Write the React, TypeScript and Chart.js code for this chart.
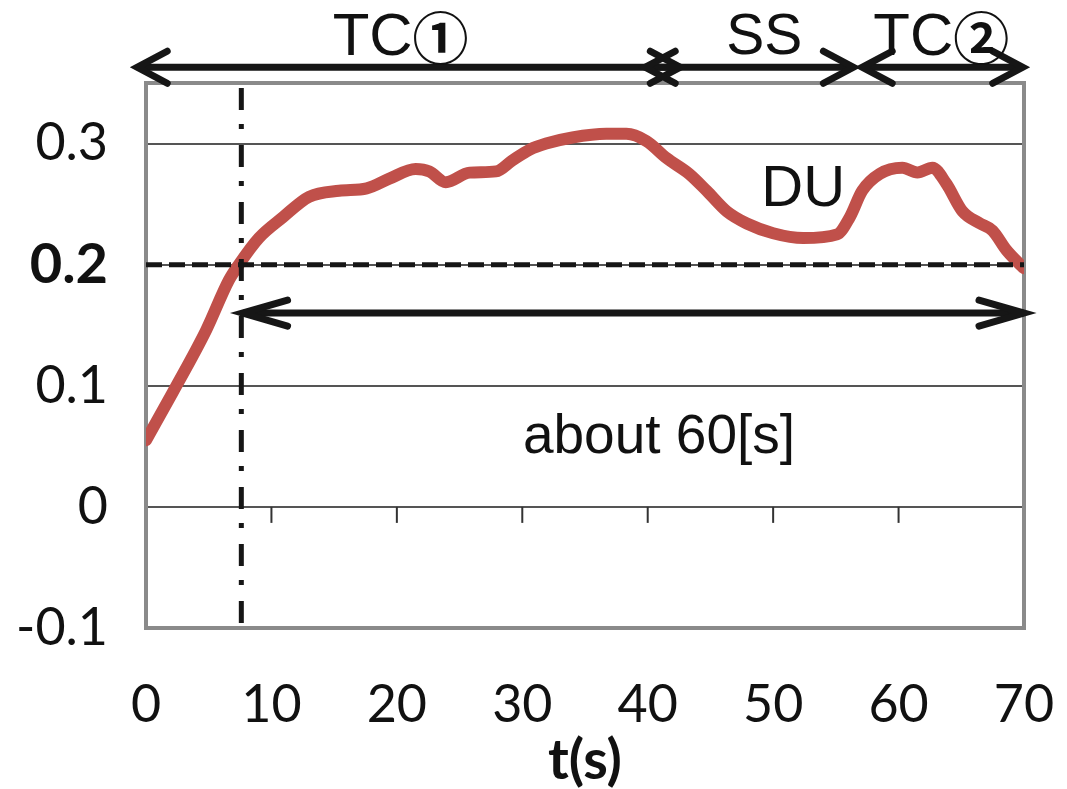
import React, { useEffect, useRef } from 'react';
import { Chart, registerables } from 'chart.js';

Chart.register(...registerables);

// ---- data ----
const timeSeconds = [0, 2.1, 4.8, 6.6, 7.4, 9.0, 10.9, 13.0, 15.4, 17.6, 19.4, 21.5, 22.6, 23.9, 25.8, 27.9, 29.2, 30.6, 31.9, 34.0, 36.7, 38.3, 39.9, 41.5, 43.3, 44.7, 46.3, 47.9, 50.0, 52.4, 55.1, 56.1, 57.1, 58.5, 60.3, 61.5, 62.7, 63.8, 65.1, 66.5, 67.5, 68.6, 69.7, 70];
const duValues = [0.055, 0.094, 0.146, 0.187, 0.2, 0.222, 0.239, 0.256, 0.261, 0.263, 0.271, 0.279, 0.277, 0.268, 0.276, 0.277, 0.286, 0.295, 0.3, 0.305, 0.308, 0.308, 0.302, 0.288, 0.275, 0.261, 0.244, 0.234, 0.226, 0.222, 0.225, 0.239, 0.261, 0.275, 0.28, 0.276, 0.28, 0.267, 0.244, 0.234, 0.228, 0.212, 0.2, 0.197];

const xTickValues = [0, 10, 20, 30, 40, 50, 60, 70];
const yTickValues = [-0.1, 0, 0.1, 0.2, 0.3];

const phaseLabels = ['TC①', 'SS', 'TC②'];
const phaseStarts = [-0.7, 39.8, 57.1];
const phaseEnds = [42.6, 56.4, 69.9];
const phaseLabelTimes = [20.3, 49.3, 63.4];

const seriesLabel = 'DU';
const duThreshold = 0.2;
const thresholdReachTime = 7.6;
const durationStart = 7.7;
const durationEnd = 70;
const durationLabel = 'about 60[s]';

// ---- annotation placement (value space) ----
const PHASE_ARROW_LEVEL = 0.363;
const PHASE_LABEL_LEVEL = 0.387;
const DURATION_ARROW_LEVEL = 0.16;
const DURATION_LABEL_POS = { t: 40.9, v: 0.057 };
const SERIES_LABEL_POS = { t: 52.4, v: 0.2615 };

const INK = '#161616';
const TEXT_FONT = '"Liberation Sans", Arial, "Noto Sans CJK JP", sans-serif';
const CIRCLED_FONT = '"Noto Sans CJK JP", "DejaVu Sans", sans-serif';

function drawArrow(ctx: CanvasRenderingContext2D, x1: number, x2: number, y: number, headLen: number, headHalf: number) {
  ctx.beginPath();
  ctx.moveTo(x1 + 2, y);
  ctx.lineTo(x2 - 2, y);
  ctx.stroke();
  ctx.beginPath();
  ctx.moveTo(x1 + headLen, y - headHalf);
  ctx.lineTo(x1, y);
  ctx.lineTo(x1 + headLen, y + headHalf);
  ctx.stroke();
  ctx.beginPath();
  ctx.moveTo(x2 - headLen, y - headHalf);
  ctx.lineTo(x2, y);
  ctx.lineTo(x2 - headLen, y + headHalf);
  ctx.stroke();
}

// draws a label centred at (cx, cy); circled digits get a heavier font
function drawMixedLabel(ctx: CanvasRenderingContext2D, text: string, cx: number, cy: number, size: number) {
  const parts = Array.from(text).map((ch) => {
    const circled = ch >= '\u2460' && ch <= '\u2473';
    return { ch, font: circled ? `bold ${size - 4}px ${CIRCLED_FONT}` : `${size}px ${TEXT_FONT}` };
  });
  let total = 0;
  const widths = parts.map((p) => {
    ctx.font = p.font;
    const w = ctx.measureText(p.ch).width;
    total += w;
    return w;
  });
  let x = cx - total / 2;
  ctx.textAlign = 'left';
  parts.forEach((p, i) => {
    ctx.font = p.font;
    ctx.fillText(p.ch, x, cy);
    x += widths[i];
  });
  ctx.textAlign = 'center';
}

const overlayPlugin = {
  id: 'overlay',
  beforeDatasetsDraw(chart: any) {
    const { ctx, chartArea: a, scales } = chart;
    const xs = scales.x;
    const ys = scales.y;
    ctx.save();
    // frame
    ctx.strokeStyle = '#8a8a8a';
    ctx.lineWidth = 4;
    ctx.strokeRect(a.left, a.top, a.right - a.left, a.bottom - a.top);
    // tick marks on the zero line
    const y0 = ys.getPixelForValue(0);
    ctx.strokeStyle = '#333';
    ctx.lineWidth = 2;
    xs.ticks.forEach((t: any) => {
      if (t.value <= xs.min || t.value >= xs.max) return;
      const px = xs.getPixelForValue(t.value);
      ctx.beginPath();
      ctx.moveTo(px, y0);
      ctx.lineTo(px, y0 + 16);
      ctx.stroke();
    });
    ctx.restore();
  },
  afterDatasetsDraw(chart: any) {
    const { ctx, chartArea: a, scales } = chart;
    const xs = scales.x;
    const ys = scales.y;
    ctx.save();
    // threshold dashed line
    const yT = ys.getPixelForValue(duThreshold);
    ctx.strokeStyle = INK;
    ctx.lineWidth = 5;
    ctx.setLineDash([16, 7]);
    ctx.beginPath();
    ctx.moveTo(a.left, yT);
    ctx.lineTo(a.right, yT);
    ctx.stroke();
    // vertical dash-dot line
    const xR = xs.getPixelForValue(thresholdReachTime);
    ctx.lineWidth = 5;
    ctx.lineCap = 'butt';
    ctx.setLineDash([22, 14, 5, 16]);
    ctx.beginPath();
    ctx.moveTo(xR, a.top + 5);
    ctx.lineTo(xR, a.bottom);
    ctx.stroke();
    ctx.setLineDash([]);

    // phase arrows
    ctx.lineCap = 'round';
    ctx.lineJoin = 'miter';
    ctx.lineWidth = 7;
    const yP = ys.getPixelForValue(PHASE_ARROW_LEVEL);
    phaseLabels.forEach((_, i) => {
      drawArrow(ctx, xs.getPixelForValue(phaseStarts[i]), xs.getPixelForValue(phaseEnds[i]), yP, 30, 16);
    });
    // duration arrow
    const yD = ys.getPixelForValue(DURATION_ARROW_LEVEL);
    drawArrow(ctx, xs.getPixelForValue(durationStart), xs.getPixelForValue(durationEnd), yD, 45, 13);

    // texts
    ctx.fillStyle = '#111';
    ctx.textAlign = 'center';
    ctx.textBaseline = 'middle';
    const yL = ys.getPixelForValue(PHASE_LABEL_LEVEL);
    phaseLabels.forEach((lab, i) => {
      drawMixedLabel(ctx, lab, xs.getPixelForValue(phaseLabelTimes[i]), yL, lab === 'SS' ? 57 : 60);
    });
    ctx.font = '58px ' + TEXT_FONT;
    ctx.fillText(seriesLabel, xs.getPixelForValue(SERIES_LABEL_POS.t), ys.getPixelForValue(SERIES_LABEL_POS.v));
    ctx.font = '55px ' + TEXT_FONT;
    ctx.fillText(durationLabel, xs.getPixelForValue(DURATION_LABEL_POS.t), ys.getPixelForValue(DURATION_LABEL_POS.v));
    ctx.restore();
  },
};

export default function App() {
  const ref = useRef<HTMLCanvasElement | null>(null);
  useEffect(() => {
    if (!ref.current) return;
    const chart = new Chart(ref.current, {
      type: 'line',
      data: {
        datasets: [
          {
            label: seriesLabel,
            data: timeSeconds.map((t, i) => ({ x: t, y: duValues[i] })),
            borderColor: '#c0504a',
            borderWidth: 12,
            pointRadius: 0,
            cubicInterpolationMode: 'monotone',
            fill: false,
            borderCapStyle: 'round',
            borderJoinStyle: 'round',
          } as any,
        ],
      },
      options: {
        animation: false,
        responsive: true,
        maintainAspectRatio: false,
        events: [],
        layout: { padding: { top: 83, right: 43, left: 0, bottom: 0 } },
        plugins: { legend: { display: false }, tooltip: { enabled: false } },
        scales: {
          x: {
            type: 'linear',
            min: 0,
            max: 70,
            afterBuildTicks: (s: any) => {
              s.ticks = xTickValues.map((v) => ({ value: v }));
            },
            afterFit: (s: any) => {
              s.height = 161;
              s.paddingLeft = 0;
              s.paddingRight = 0;
            },
            grid: { display: false, drawTicks: false },
            border: { display: false },
            ticks: {
              padding: 46,
              color: '#111',
              font: { family: 'Lato', size: 52 },
              maxRotation: 0,
              autoSkip: false,
              callback: (v: any) => String(v),
            },
            title: {
              display: true,
              text: 't(s)',
              color: '#111',
              font: { family: 'Lato', size: 56, weight: 'bold', lineHeight: 1 },
              padding: { top: 0, bottom: 0 },
            },
          },
          y: {
            type: 'linear',
            min: -0.1,
            max: 0.35,
            afterBuildTicks: (s: any) => {
              s.ticks = yTickValues.map((v) => ({ value: v }));
            },
            afterFit: (s: any) => {
              s.width = 146;
              s.paddingTop = 0;
              s.paddingBottom = 0;
            },
            grid: {
              color: (c: any) => (c.tick && c.tick.value === -0.1 ? 'rgba(0,0,0,0)' : '#555'),
              lineWidth: 2,
              drawTicks: false,
            },
            border: { display: false },
            ticks: {
              padding: 38,
              color: '#111',
              font: (c: any) => {
                const bold = c.tick && c.tick.value === duThreshold;
                return { family: 'Lato', size: bold ? 56 : 52, weight: bold ? 'bold' : 'normal' };
              },
              callback: (v: any) => String(v),
            },
          },
        },
      } as any,
      plugins: [overlayPlugin],
    });
    return () => chart.destroy();
  }, []);
  return (
    <div style={{ position: 'fixed', left: 0, top: 0, width: '1067px', height: '789px', background: '#fff' }}>
      <canvas ref={ref} />
    </div>
  );
}
